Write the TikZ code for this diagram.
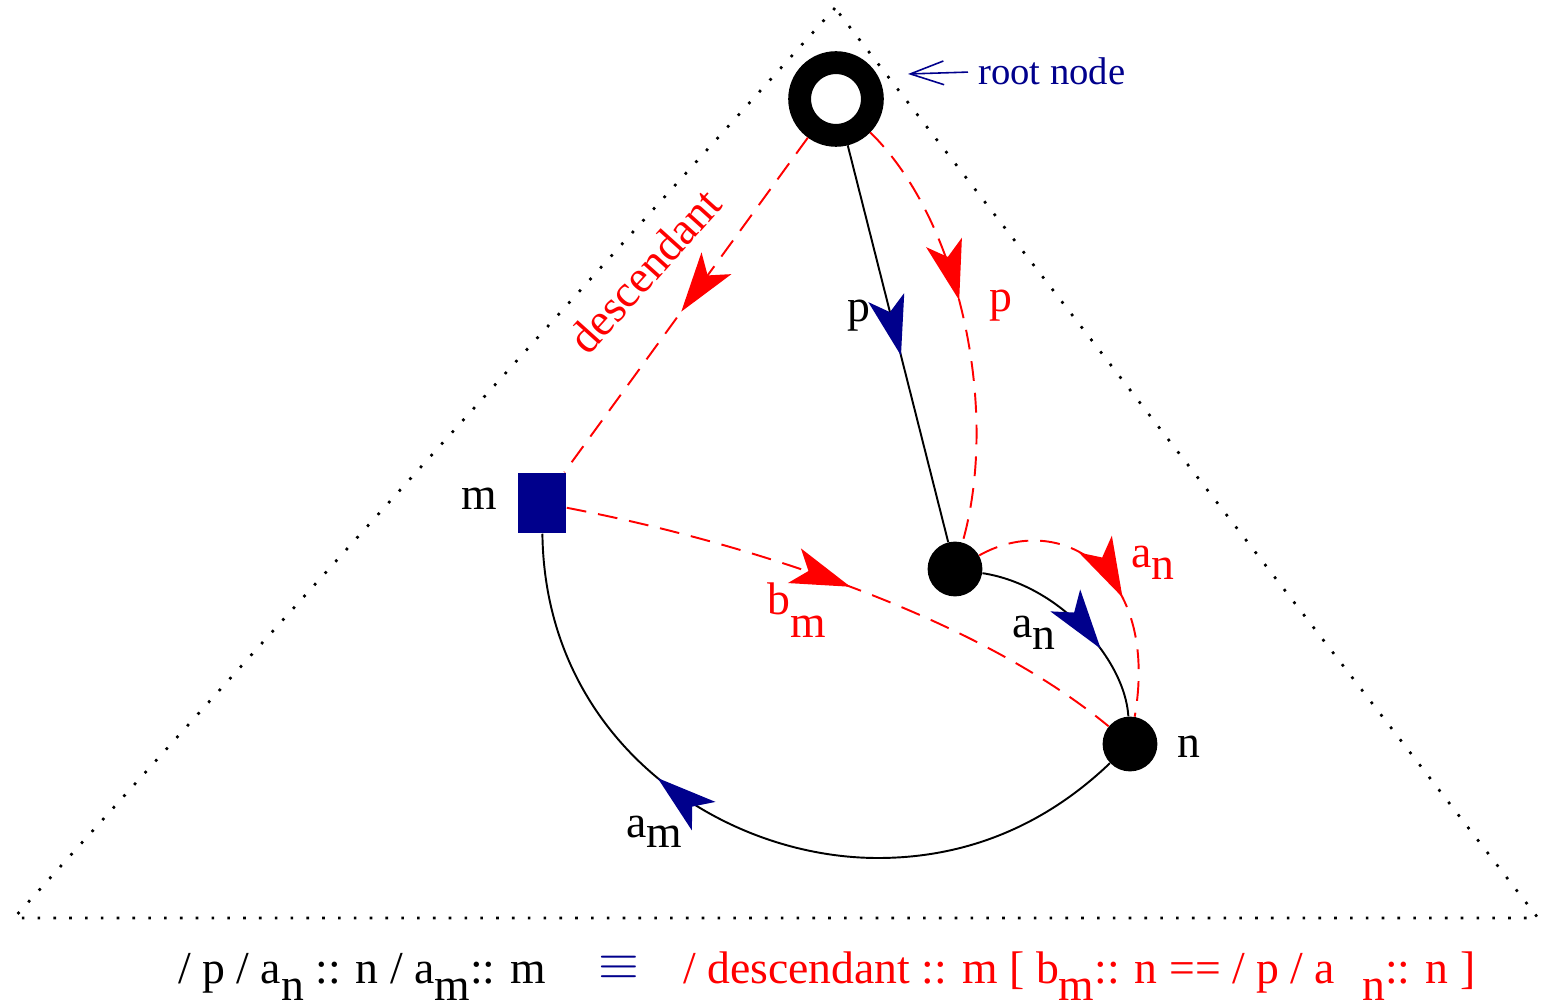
\documentclass[tikz,border=0pt]{standalone}
\usepackage{fontspec}
\setmainfont{Liberation Serif}
\usetikzlibrary{arrows.meta, decorations.markings}

\definecolor{navyc}{RGB}{0,0,140}

\tikzset{
  lbl/.style={font=\fontsize{26}{30}\selectfont, inner sep=0pt, anchor=base west},
  dotline/.style={line width=1.5pt, dash pattern=on 1.5pt off 7.5pt},
  edge/.style={line width=1.1pt},
  redge/.style={line width=1.1pt, red, dash pattern=on 11.3pt off 6.8pt},
  fnode/.style={circle, fill, minimum size=31.2pt, inner sep=0pt},
  midtip/.style 2 args={postaction={decorate, decoration={markings,
      mark=at position #1 with {\arrow{Stealth[length=34pt, width=21pt, inset=8.5pt, color=#2]}}}}},
}
\newcommand{\lowered}[2]{\raisebox{-#1}{#2}}

\begin{document}
\begin{tikzpicture}[x=0.02cm, y=-0.02cm]
    \useasboundingbox (0,0) rectangle (1542,1006);

    % 三角形
    \draw[dotline] (835,8) -- (14,918) -- (1538,918) -- cycle;

    % 节点
    \node[circle, draw, line width=13pt, minimum size=41.4pt, inner sep=0pt] (root) at (836,99) {};
    \node[fnode] (pn) at (955,569) {};
    \node[fnode] (nn) at (1130,744) {};
    \node[fill=navyc, minimum width=27.8pt, minimum height=34.6pt, inner sep=0pt] (m) at (542,503) {};

    % root node 标注
    \node[lbl, font=\fontsize{22}{26}\selectfont, text=navyc] (rootlbl) at (978,85) {root node};
    \coordinate (rootptr) at (908,74);
    \draw[navyc, line width=0.9pt, shorten <=5.7pt, -{Straight Barb[length=19pt, width=13.5pt]}] (rootlbl.west) -- (rootptr);

    % 黑色边
    \draw[edge, midtip={0.53}{navyc}] (root) -- (pn);
    \draw[edge, midtip={0.66}{navyc}] (pn) .. controls (1060,585) and (1125,660) .. (nn);
    \draw[edge, midtip={0.64}{navyc}] (nn) .. controls (1040,830) and (960,858) .. (878,858)
        .. controls (720,858) and (545,740) .. (m);

    % 红色虚线
    \draw[redge, midtip={0.52}{red}] (root) -- (m);
    \draw[redge, midtip={0.44}{red}] (root) .. controls (960,220) and (1000,410) .. (pn);
    \draw[redge, midtip={0.58}{red}] (pn) .. controls (1060,510) and (1160,570) .. (nn);
    \draw[redge, midtip={0.5}{red}] (m) .. controls (760,545) and (980,620) .. (nn);

    % 标注
    \node[lbl] (lblm) at (461,510) {m};
    \node[lbl] (lbln) at (1177,757) {n};
    \node[lbl] (lblp) at (847,322) {p};
    \node[lbl, text=red] (lblpr) at (989,312) {p};
    \node[lbl] (lblan) at (1012,638) {a\lowered{6.8pt}{n}};
    \node[lbl, text=red] (lblanr) at (1131,568) {a\lowered{6.8pt}{n}};
    \node[lbl, text=red] (lblbm) at (767,615) {b\lowered{13pt}{m}};
    \node[lbl] (lblam) at (626,837) {a\lowered{6.2pt}{m}};
    \node[lbl, text=red, rotate=48] (lbldesc) at (588,357) {descendant};

    % 公式
    \node[lbl] (fblack) at (178,983) {/ p / a\lowered{10pt}{n} :: n / a\lowered{10pt}{m}:: m};
    \node[lbl, anchor=center, text=navyc] (fequiv) at (619,968) {\scalebox{1.2}[1.15]{$\equiv$}};
    \node[lbl, text=red] (fred) at (683,983) {/ descendant :: m [ b\lowered{10pt}{m}:: n == / p / a\hspace{0.6em}\lowered{10pt}{n}:: n ]};
\end{tikzpicture}
\end{document}
